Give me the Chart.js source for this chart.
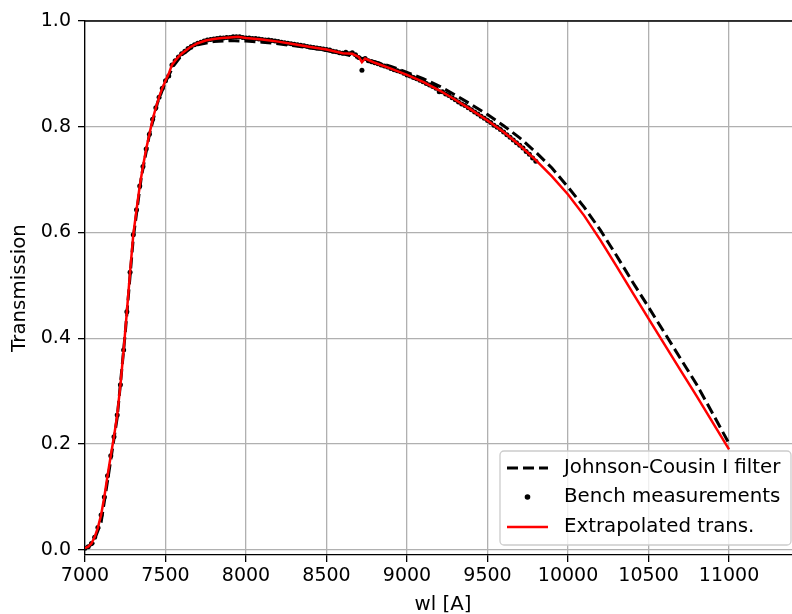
<!DOCTYPE html>
<html>
  <head>
    <title>Transmission</title>
    <meta charset="utf-8" />
    <script src="https://cdn.jsdelivr.net/npm/chart.js"></script>
    <style>
      html, body { margin: 0; padding: 0; overflow: hidden; background: #fff; }
    </style>
  </head>
  <body>
    <canvas id="myChart" width="812" height="614"></canvas>
    <script>
      // tick labels
      const xTicks = [7000, 7500, 8000, 8500, 9000, 9500, 10000, 10500, 11000];
      const yTicks = [0, 0.2, 0.4, 0.6, 0.8, 1.0];

      // Johnson-Cousin I filter (dashed)
      const jcWl = [7000, 7050, 7100, 7150, 7200, 7250, 7300, 7350, 7400, 7450,
        7500, 7550, 7600, 7650, 7700, 7800, 7900, 8000, 8100, 8200,
        8300, 8400, 8500, 8600, 8700, 8800, 8900, 9000, 9100, 9200,
        9300, 9400, 9500, 9600, 9700, 9800, 9900, 10000, 10100, 10200,
        10300, 10400, 10500, 10600, 10700, 10800, 10900, 11000];
      const jcTrans = [0.002, 0.012, 0.052, 0.150, 0.250, 0.410, 0.590, 0.705, 0.785, 0.845,
        0.885, 0.915, 0.935, 0.947, 0.955, 0.961, 0.963, 0.962, 0.960, 0.957,
        0.953, 0.949, 0.944, 0.938, 0.931, 0.923, 0.914, 0.903, 0.891, 0.877,
        0.860, 0.842, 0.823, 0.802, 0.779, 0.752, 0.722, 0.686, 0.648, 0.605,
        0.557, 0.507, 0.459, 0.410, 0.361, 0.312, 0.257, 0.201];

      // bench measurements (dots)
      const benchWl = [7000, 7020, 7040, 7060, 7080, 7100, 7120, 7140, 7160, 7180,
        7200, 7220, 7240, 7260, 7280, 7300, 7320, 7340, 7360, 7380,
        7400, 7420, 7440, 7460, 7480, 7500, 7520, 7540, 7560, 7580,
        7600, 7620, 7640, 7660, 7680, 7700, 7720, 7740, 7760, 7780,
        7800, 7820, 7840, 7860, 7880, 7900, 7920, 7940, 7960, 7980,
        8000, 8020, 8040, 8060, 8080, 8100, 8120, 8140, 8160, 8180,
        8200, 8220, 8240, 8260, 8280, 8300, 8320, 8340, 8360, 8380,
        8400, 8420, 8440, 8460, 8480, 8500, 8520, 8540, 8560, 8580,
        8600, 8620, 8640, 8660, 8680, 8700, 8720, 8740, 8760, 8780,
        8800, 8820, 8840, 8860, 8880, 8900, 8920, 8940, 8960, 8980,
        9000, 9020, 9040, 9060, 9080, 9100, 9120, 9140, 9160, 9180,
        9200, 9220, 9240, 9260, 9280, 9300, 9320, 9340, 9360, 9380,
        9400, 9420, 9440, 9460, 9480, 9500, 9520, 9540, 9560, 9580,
        9600, 9620, 9640, 9660, 9680, 9700, 9720, 9740, 9760, 9780,
        9800];
      const benchTrans = [0.003, 0.006, 0.012, 0.024, 0.042, 0.066, 0.100, 0.140, 0.178, 0.214,
        0.255, 0.312, 0.378, 0.450, 0.525, 0.596, 0.643, 0.688, 0.725, 0.758,
        0.786, 0.814, 0.836, 0.856, 0.873, 0.887, 0.896, 0.917, 0.925, 0.932,
        0.938, 0.943, 0.948, 0.952, 0.955, 0.958, 0.960, 0.962, 0.964, 0.965,
        0.966, 0.967, 0.968, 0.968, 0.969, 0.969, 0.970, 0.970, 0.970, 0.969,
        0.968, 0.968, 0.967, 0.967, 0.966, 0.965, 0.964, 0.964, 0.963, 0.962,
        0.961, 0.960, 0.959, 0.958, 0.957, 0.956, 0.955, 0.954, 0.953, 0.952,
        0.951, 0.950, 0.949, 0.948, 0.947, 0.946, 0.945, 0.943, 0.942, 0.940,
        0.939, 0.941, 0.938, 0.940, 0.936, 0.931, 0.907, 0.929, 0.925, 0.923,
        0.921, 0.919, 0.917, 0.915, 0.913, 0.910, 0.908, 0.906, 0.904, 0.901,
        0.898, 0.896, 0.893, 0.891, 0.888, 0.885, 0.882, 0.879, 0.876, 0.873,
        0.866, 0.866, 0.862, 0.859, 0.855, 0.851, 0.847, 0.843, 0.840, 0.836,
        0.832, 0.828, 0.824, 0.820, 0.816, 0.812, 0.808, 0.803, 0.799, 0.795,
        0.790, 0.785, 0.780, 0.775, 0.770, 0.765, 0.760, 0.753, 0.748, 0.741,
        0.735];

      // extrapolated transmission (red)
      const extWl = [7000, 7020, 7040, 7060, 7080, 7100, 7120, 7140, 7160, 7180,
        7200, 7220, 7240, 7260, 7280, 7300, 7320, 7340, 7360, 7380,
        7400, 7420, 7440, 7460, 7480, 7500, 7520, 7540, 7560, 7580,
        7600, 7650, 7700, 7750, 7800, 7850, 7900, 7950, 8000, 8100,
        8200, 8300, 8400, 8500, 8600, 8660, 8700, 8720, 8740, 8800,
        8900, 9000, 9100, 9200, 9300, 9400, 9500, 9600, 9700, 9800,
        9900, 10000, 10100, 10200, 10300, 10400, 10500, 10600, 10700, 10800,
        10900, 11000];
      const extTrans = [0.003, 0.006, 0.012, 0.024, 0.042, 0.066, 0.100, 0.140, 0.178, 0.214,
        0.255, 0.312, 0.378, 0.450, 0.525, 0.596, 0.643, 0.688, 0.725, 0.758,
        0.786, 0.814, 0.836, 0.856, 0.873, 0.887, 0.900, 0.917, 0.925, 0.932,
        0.938, 0.950, 0.958, 0.963, 0.966, 0.968, 0.969, 0.970, 0.968, 0.965,
        0.961, 0.956, 0.951, 0.946, 0.939, 0.938, 0.932, 0.922, 0.929, 0.921,
        0.910, 0.898, 0.885, 0.869, 0.851, 0.832, 0.812, 0.790, 0.765, 0.737,
        0.706, 0.672, 0.632, 0.586, 0.537, 0.487, 0.437, 0.388, 0.339, 0.290,
        0.240, 0.190];

      const legendLabels = ["Johnson-Cousin I filter", "Bench measurements", "Extrapolated trans."];

      function pts(xs, ys) {
        return xs.map((x, i) => ({ x: x, y: ys[i] }));
      }

      const tickFont = { family: "'DejaVu Sans', sans-serif", size: 19 };
      const titleFont = { family: "'DejaVu Sans', sans-serif", size: 19.8 };

      // top spine + legend box inside the axes
      const extras = {
        id: "extras",
        afterDraw(chart) {
          const ctx = chart.ctx;
          const a = chart.chartArea;
          ctx.save();
          ctx.strokeStyle = "#000";
          ctx.lineWidth = 1.3;
          ctx.beginPath();
          ctx.moveTo(a.left, a.top);
          ctx.lineTo(a.right, a.top);
          ctx.lineTo(a.right, a.bottom);
          ctx.stroke();

          const w = 291, h = 94;
          const x0 = a.right - 10 - w;
          const y0 = a.bottom - 10 - h;
          ctx.beginPath();
          ctx.roundRect(x0, y0, w, h, 4);
          ctx.fillStyle = "rgba(255,255,255,0.8)";
          ctx.fill();
          ctx.strokeStyle = "#cccccc";
          ctx.lineWidth = 1.3;
          ctx.stroke();

          const rows = [y0 + 17, y0 + 46, y0 + 76];
          // dashed handle
          ctx.strokeStyle = "#000";
          ctx.lineWidth = 3;
          ctx.setLineDash([11, 5]);
          ctx.beginPath();
          ctx.moveTo(x0 + 7, rows[0]);
          ctx.lineTo(x0 + 48, rows[0]);
          ctx.stroke();
          ctx.setLineDash([]);
          // dot handle
          ctx.fillStyle = "#000";
          ctx.beginPath();
          ctx.arc(x0 + 27.5, rows[1], 2.8, 0, Math.PI * 2);
          ctx.fill();
          // red handle
          ctx.strokeStyle = "#ff0000";
          ctx.lineWidth = 2.5;
          ctx.beginPath();
          ctx.moveTo(x0 + 7, rows[2]);
          ctx.lineTo(x0 + 48, rows[2]);
          ctx.stroke();

          ctx.fillStyle = "#000";
          ctx.font = "19.8px 'DejaVu Sans', sans-serif";
          ctx.textBaseline = "middle";
          ctx.textAlign = "left";
          legendLabels.forEach((t, i) => ctx.fillText(t, x0 + 64, rows[i]));
          ctx.restore();
        },
      };

      var ctx = document.getElementById("myChart").getContext("2d");
      var myChart = new Chart(ctx, {
        type: "scatter",
        data: {
          datasets: [
            {
              label: legendLabels[0],
              data: pts(jcWl, jcTrans),
              showLine: true,
              borderColor: "#000",
              borderWidth: 3,
              borderDash: [11, 5],
              pointRadius: 0,
              order: 3,
            },
            {
              label: legendLabels[1],
              data: pts(benchWl, benchTrans),
              showLine: false,
              backgroundColor: "#000",
              borderWidth: 0,
              pointRadius: 2.5,
              order: 2,
            },
            {
              label: legendLabels[2],
              data: pts(extWl, extTrans),
              showLine: true,
              borderColor: "#ff0000",
              borderWidth: 2.5,
              pointRadius: 0,
              order: 1,
            },
          ],
        },
        options: {
          responsive: false,
          animation: false,
          layout: { padding: { top: 21, right: 11, left: 0, bottom: 0 } },
          plugins: {
            legend: { display: false },
            tooltip: { enabled: false },
          },
          scales: {
            x: {
              type: "linear",
              min: 7000,
              max: 11447,
              afterBuildTicks: (s) => { s.ticks = xTicks.map((v) => ({ value: v })); },
              afterFit: (s) => { s.height = 59; },
              grid: { color: "#b0b0b0", lineWidth: 1.3, tickColor: "#000", tickLength: 7, tickWidth: 1.3 },
              border: { display: true, color: "#000", width: 1.3 },
              ticks: { color: "#000", font: tickFont, padding: 3, maxRotation: 0, callback: (v) => String(v) },
              title: { display: true, text: "wl [A]", color: "#000", font: titleFont, padding: { top: 0, bottom: -3 } },
            },
            y: {
              type: "linear",
              min: -0.0098,
              max: 1.0,
              afterBuildTicks: (s) => { s.ticks = yTicks.map((v) => ({ value: v })); },
              afterFit: (s) => { s.width = 85; },
              grid: { color: "#b0b0b0", lineWidth: 1.3, tickColor: "#000", tickLength: 7, tickWidth: 1.3 },
              border: { display: true, color: "#000", width: 1.3 },
              ticks: { color: "#000", font: tickFont, padding: 7, callback: (v) => v.toFixed(1) },
              title: { display: true, text: "Transmission", color: "#000", font: titleFont, padding: { top: 8, bottom: 0 } },
            },
          },
        },
        plugins: [extras],
      });
    </script>
  </body>
</html>
